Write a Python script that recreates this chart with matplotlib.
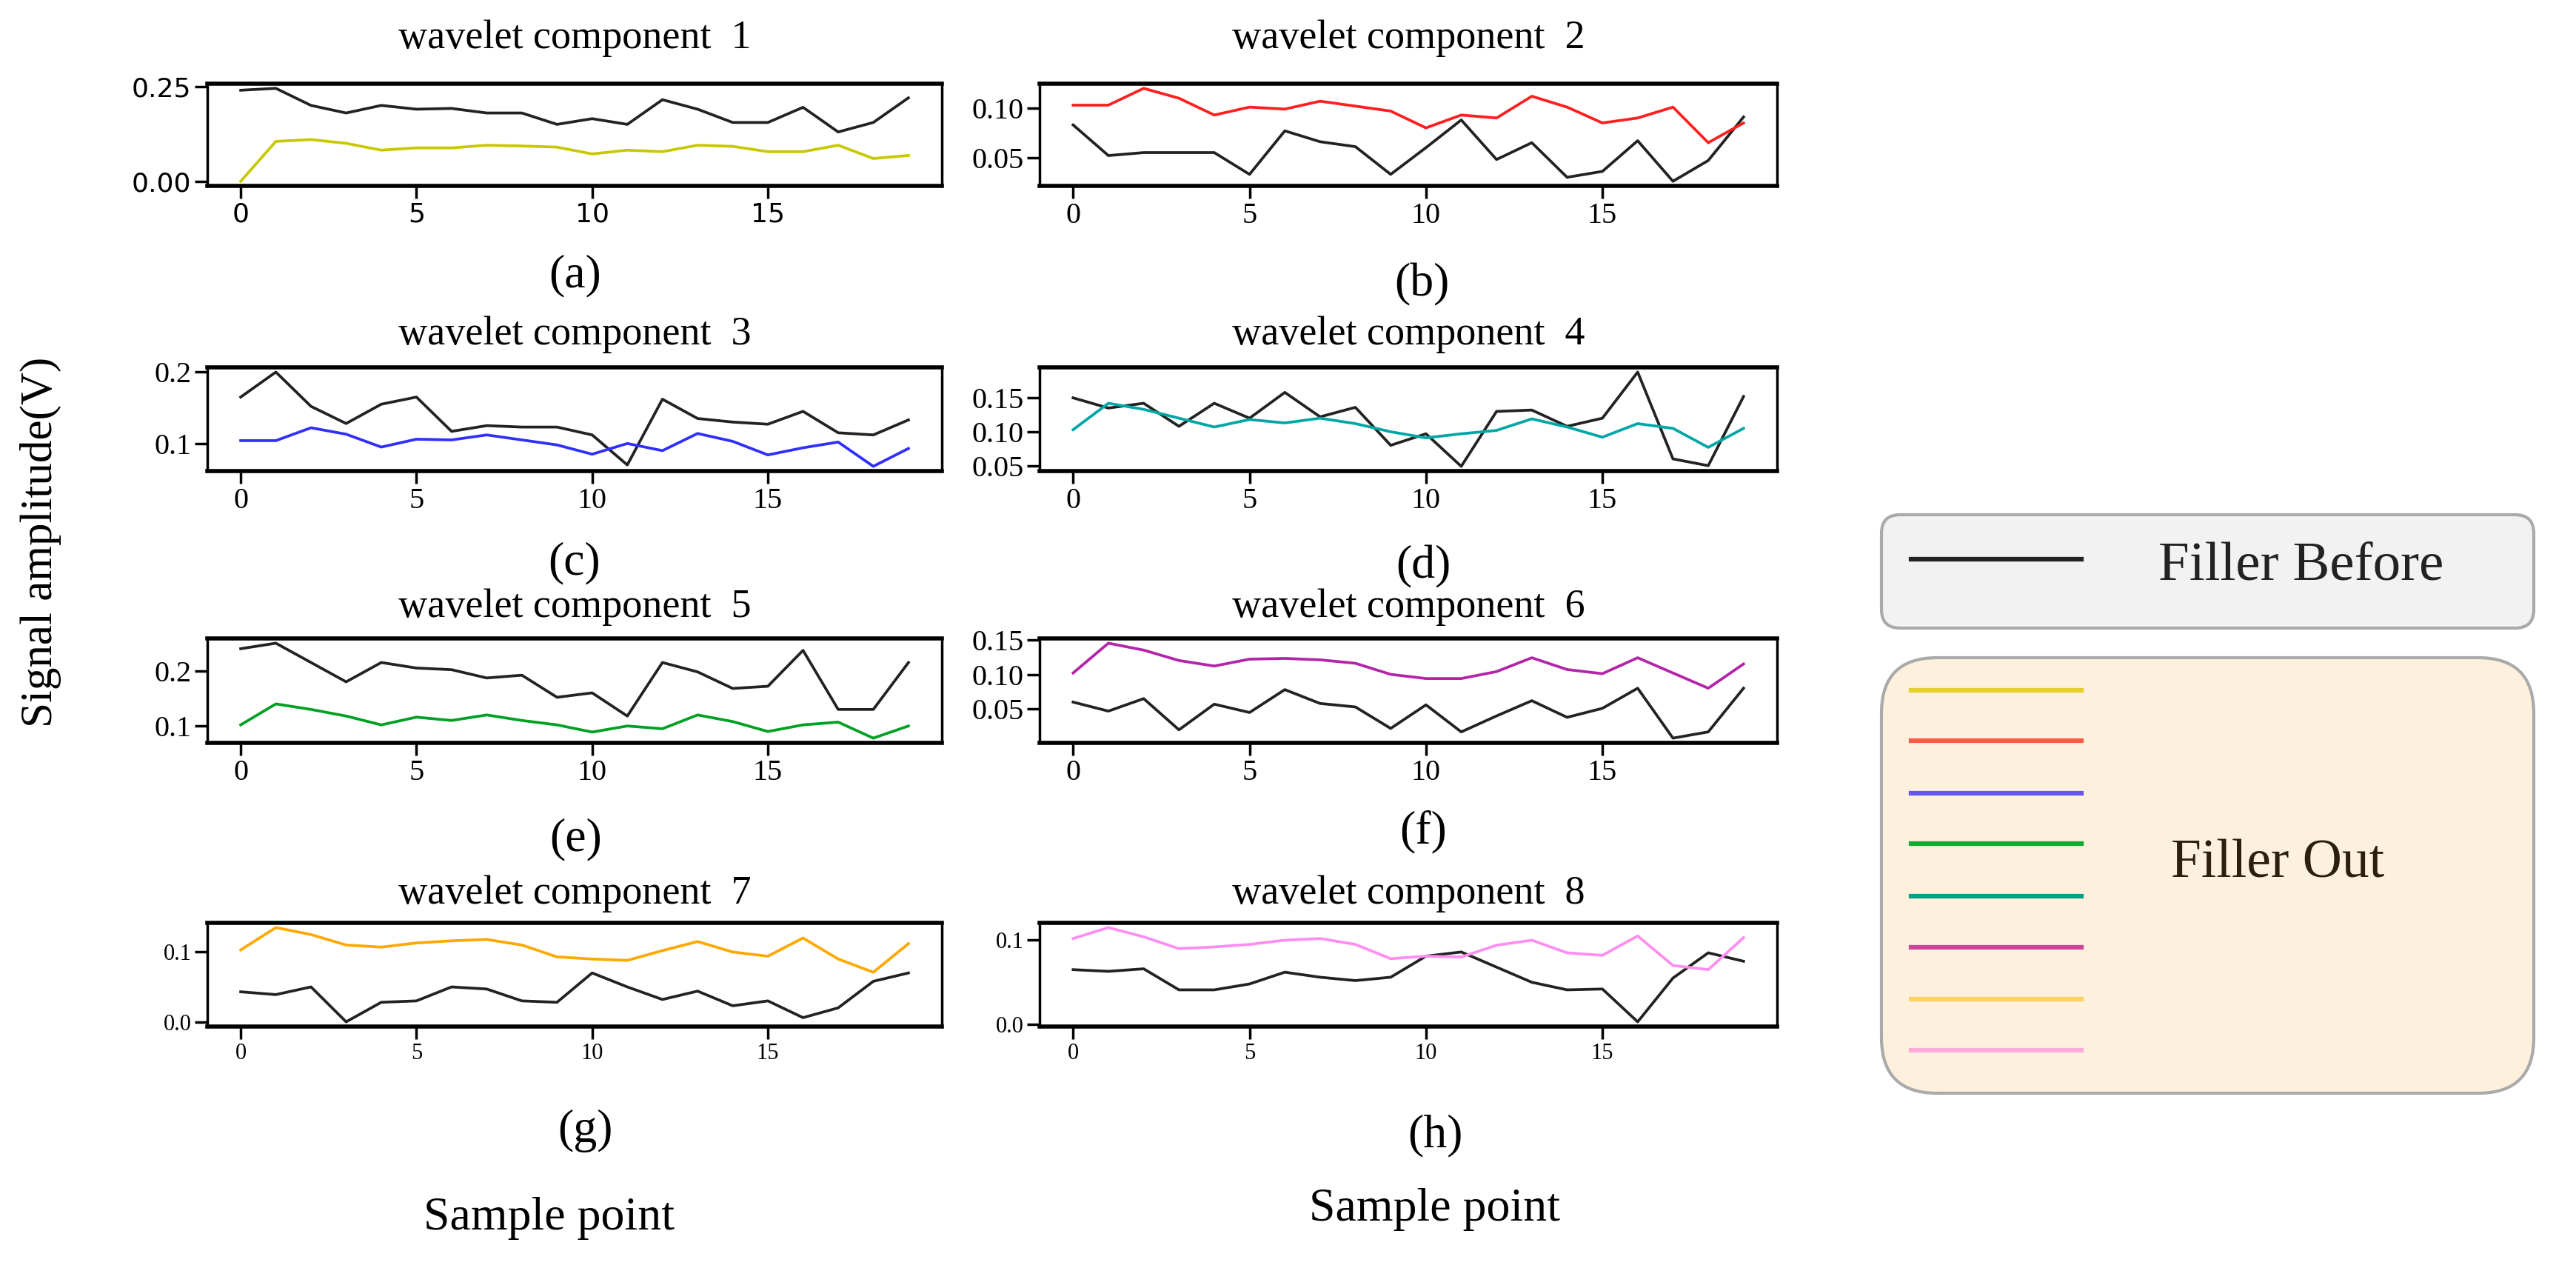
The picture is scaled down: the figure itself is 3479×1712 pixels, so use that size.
import matplotlib
matplotlib.use("Agg")
import matplotlib.pyplot as plt
from matplotlib.patches import FancyBboxPatch

plt.rcParams['font.family'] = ['Liberation Serif', 'DejaVu Serif']

x = list(range(20))

before_1 = [0.240, 0.245, 0.200, 0.180, 0.200, 0.190, 0.192, 0.180, 0.180, 0.150, 0.165, 0.150, 0.215, 0.190, 0.155, 0.155, 0.195, 0.130, 0.155, 0.220]
out_1 = [0.000, 0.105, 0.110, 0.100, 0.082, 0.088, 0.088, 0.095, 0.093, 0.090, 0.072, 0.082, 0.078, 0.095, 0.092, 0.078, 0.078, 0.095, 0.060, 0.068]
before_2 = [0.083, 0.052, 0.055, 0.055, 0.055, 0.033, 0.077, 0.066, 0.061, 0.033, 0.060, 0.088, 0.048, 0.065, 0.030, 0.036, 0.067, 0.026, 0.047, 0.091]
out_2 = [0.103, 0.103, 0.120, 0.110, 0.093, 0.101, 0.099, 0.107, 0.102, 0.097, 0.080, 0.093, 0.090, 0.112, 0.101, 0.085, 0.090, 0.101, 0.065, 0.085]
before_3 = [0.165, 0.200, 0.152, 0.128, 0.155, 0.165, 0.117, 0.125, 0.123, 0.123, 0.112, 0.070, 0.162, 0.135, 0.130, 0.127, 0.145, 0.115, 0.112, 0.133]
out_3 = [0.104, 0.104, 0.122, 0.113, 0.095, 0.106, 0.105, 0.112, 0.105, 0.098, 0.085, 0.100, 0.090, 0.114, 0.103, 0.084, 0.094, 0.102, 0.068, 0.093]
before_4 = [0.150, 0.135, 0.142, 0.108, 0.142, 0.120, 0.158, 0.122, 0.136, 0.080, 0.097, 0.049, 0.130, 0.132, 0.108, 0.120, 0.188, 0.060, 0.050, 0.152]
out_4 = [0.103, 0.142, 0.133, 0.120, 0.107, 0.118, 0.113, 0.120, 0.112, 0.100, 0.091, 0.097, 0.102, 0.119, 0.107, 0.092, 0.112, 0.105, 0.077, 0.105]
before_5 = [0.240, 0.250, 0.215, 0.180, 0.215, 0.205, 0.202, 0.187, 0.192, 0.152, 0.160, 0.118, 0.215, 0.198, 0.168, 0.172, 0.237, 0.130, 0.130, 0.215]
out_5 = [0.102, 0.140, 0.130, 0.118, 0.102, 0.116, 0.110, 0.120, 0.110, 0.102, 0.089, 0.100, 0.095, 0.120, 0.108, 0.090, 0.102, 0.107, 0.078, 0.100]
before_6 = [0.060, 0.047, 0.065, 0.020, 0.057, 0.045, 0.078, 0.058, 0.053, 0.022, 0.056, 0.017, 0.040, 0.062, 0.038, 0.051, 0.080, 0.008, 0.017, 0.080]
out_6 = [0.102, 0.145, 0.135, 0.120, 0.112, 0.122, 0.123, 0.121, 0.116, 0.100, 0.094, 0.094, 0.104, 0.124, 0.107, 0.101, 0.124, 0.102, 0.080, 0.115]
before_7 = [0.043, 0.039, 0.050, 0.000, 0.028, 0.030, 0.050, 0.047, 0.030, 0.028, 0.070, 0.050, 0.032, 0.044, 0.023, 0.030, 0.006, 0.020, 0.058, 0.070]
out_7 = [0.103, 0.135, 0.125, 0.110, 0.107, 0.113, 0.116, 0.118, 0.110, 0.093, 0.090, 0.088, 0.102, 0.115, 0.100, 0.094, 0.120, 0.090, 0.071, 0.112]
before_8 = [0.065, 0.063, 0.066, 0.041, 0.041, 0.048, 0.062, 0.056, 0.052, 0.056, 0.081, 0.086, 0.068, 0.050, 0.041, 0.042, 0.003, 0.055, 0.085, 0.075]
out_8 = [0.102, 0.115, 0.104, 0.090, 0.092, 0.095, 0.100, 0.102, 0.095, 0.078, 0.081, 0.080, 0.094, 0.100, 0.085, 0.082, 0.105, 0.070, 0.065, 0.103]

befores = [before_1, before_2, before_3, before_4, before_5, before_6, before_7, before_8]
outs = [out_1, out_2, out_3, out_4, out_5, out_6, out_7, out_8]
out_colors = ['#c8c800', '#ff1f1f', '#2f2fff', '#00a6a6', '#00a024', '#b424a8', '#ffa800', '#ff8ef0']
legend_colors = ['#e4cf2c', '#ff5a46', '#6655ee', '#10aa30', '#00a088', '#cc4499', '#ffd262', '#ffaadd']
yticks = [[0.0, 0.25], [0.05, 0.10], [0.1, 0.2], [0.05, 0.10, 0.15],
          [0.1, 0.2], [0.05, 0.10, 0.15], [0.0, 0.1], [0.0, 0.1]]
yfmt = ['%.2f', '%.2f', '%.1f', '%.2f', '%.1f', '%.2f', '%.1f', '%.1f']
letters = ['(a)', '(b)', '(c)', '(d)', '(e)', '(f)', '(g)', '(h)']

W, H = 3479, 1712
fig = plt.figure(figsize=(W / 100, H / 100), dpi=100)

def rect(l, t, r, b):
  return [l / W, 1 - b / H, (r - l) / W, (b - t) / H]

cols = [(280, 1272), (1404, 2400)]
rows = [(113, 251), (496, 636), (862, 1003), (1246, 1386)]
title_y = [52, 452, 820, 1207]
letter_pos = [(777, 372), (1920, 384), (776, 760), (1922, 765), (778, 1133), (1922, 1123), (790, 1527), (1938, 1533)]

for i in range(8):
  r, c = divmod(i, 2)
  l, rr = cols[c]
  t, b = rows[r]
  ax = fig.add_axes(rect(l, t, rr, b))
  ax.plot(x, befores[i], color='#222222', lw=2.7)
  ax.plot(x, outs[i], color=out_colors[i], lw=2.7)
  ax.set_xticks([0, 5, 10, 15])
  ax.set_yticks(yticks[i])
  ax.yaxis.set_major_formatter(matplotlib.ticker.FormatStrFormatter(yfmt[i]))
  fs = 22 if r == 3 else 29
  ax.tick_params(labelsize=fs, width=2.5, length=12)
  if i == 0:
    # first panel uses a sans tick font
    for lab in ax.get_xticklabels() + ax.get_yticklabels():
      lab.set_family('DejaVu Sans')
      lab.set_fontsize(26)
  for s in ax.spines.values():
    s.set_linewidth(2.5)
  ax.spines['top'].set_linewidth(4)
  ax.spines['bottom'].set_linewidth(4)
  fig.text((l + rr) / 2 / W, 1 - title_y[r] / H, f'wavelet component  {i + 1}',
           ha='center', va='center', fontsize=39)
  lx, ly = letter_pos[i]
  fig.text(lx / W, 1 - ly / H, letters[i], ha='center', va='center', fontsize=46)

fig.text(55 / W, 1 - 732 / H, 'Signal amplitude(V)', rotation=90, ha='center', va='center', fontsize=44)
fig.text(742 / W, 1 - 1645 / H, 'Sample point', ha='center', va='center', fontsize=46)
fig.text(1938 / W, 1 - 1633 / H, 'Sample point', ha='center', va='center', fontsize=46)

# legend boxes drawn on a full-figure overlay in pixel units
lg = fig.add_axes([0, 0, 1, 1])
lg.set_xlim(0, W)
lg.set_ylim(H, 0)
lg.axis('off')
lg.add_patch(FancyBboxPatch((2541 + 25, 695 + 25), 881 - 50, 153 - 50,
             boxstyle='round,pad=25', fc='#f2f2f2', ec='#aaaaaa', lw=3))
lg.add_patch(FancyBboxPatch((2541 + 75, 888 + 75), 881 - 150, 588 - 150,
             boxstyle='round,pad=75', fc='#fdf1de', ec='#aaaaaa', lw=3))
lg.plot([2581, 2811], [755, 755], color='#222222', lw=4.5)
lg.text(3108, 765, 'Filler Before', ha='center', va='center', fontsize=54, color='#222222')
line_y = [932, 1000, 1071, 1139, 1210, 1279, 1349, 1418]
for yy, cc in zip(line_y, legend_colors):
  lg.plot([2581, 2811], [yy, yy], color=cc, lw=4.5)
lg.text(3076, 1167, 'Filler Out', ha='center', va='center', fontsize=53, color='#2b2010')

fig.savefig('out.png', dpi=100)
